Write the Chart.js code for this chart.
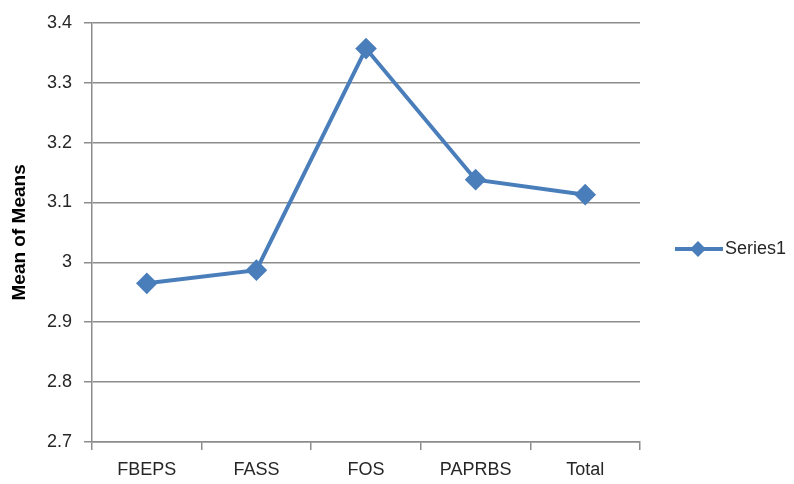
<!DOCTYPE html>
<html>
<head>
<meta charset="utf-8">
<script src="https://cdn.jsdelivr.net/npm/chart.js@4.4.1/dist/chart.umd.min.js"></script>
<style>
  html, body { margin: 0; padding: 0; background: #fff; }
  #wrap { width: 794px; height: 484px; }
</style>
</head>
<body>
<div id="wrap"><canvas id="myChart" width="794" height="484"></canvas></div>
<script>
const categories = ['FBEPS', 'FASS', 'FOS', 'PAPRBS', 'Total'];
const series1 = [2.965, 2.987, 3.357, 3.138, 3.113];
const seriesName = 'Series1';

const lineColor = '#4A7EBB';
const gridColor = '#8C8C8C';
const textColor = '#262626';
const fontFamily = "'Liberation Sans', Arial, sans-serif";

// legend drawn by hand so it sits where the original one does
const sideLegend = {
    id: 'sideLegend',
    afterDraw(chart) {
        const ctx = chart.ctx;
        const y = 249;
        ctx.save();
        ctx.strokeStyle = lineColor;
        ctx.lineWidth = 4;
        ctx.beginPath();
        ctx.moveTo(675, y);
        ctx.lineTo(723, y);
        ctx.stroke();
        ctx.fillStyle = lineColor;
        ctx.beginPath();
        ctx.moveTo(698, y - 8);
        ctx.lineTo(706, y);
        ctx.lineTo(698, y + 8);
        ctx.lineTo(690, y);
        ctx.closePath();
        ctx.fill();
        ctx.fillStyle = textColor;
        ctx.font = '18px ' + fontFamily;
        ctx.textBaseline = 'middle';
        ctx.fillText(seriesName, 725, y);
        ctx.restore();
    }
};

const ctx = document.getElementById('myChart').getContext('2d');
new Chart(ctx, {
    type: 'line',
    data: {
        labels: categories,
        datasets: [{
            label: seriesName,
            data: series1,
            borderColor: lineColor,
            backgroundColor: lineColor,
            borderWidth: 4,
            pointStyle: 'rectRot',
            pointRadius: 8,
            pointHoverRadius: 8,
            fill: false,
            tension: 0
        }]
    },
    options: {
        responsive: false,
        animation: false,
        layout: { padding: { left: 8, right: 154, top: 22, bottom: 0 } },
        plugins: {
            legend: { display: false },
            tooltip: { enabled: false }
        },
        scales: {
            x: {
                offset: true,
                afterFit: (scale) => { scale.height = 42; },
                grid: {
                    offset: true,
                    drawOnChartArea: false,
                    color: gridColor,
                    tickLength: 8,
                    lineWidth: 1.5
                },
                border: { color: gridColor, width: 1.5 },
                ticks: {
                    color: textColor,
                    font: { family: fontFamily, size: 18 },
                    padding: 9
                }
            },
            y: {
                min: 2.7,
                max: 3.4,
                afterFit: (scale) => { scale.width = 84; },
                grid: {
                    color: gridColor,
                    tickLength: 8,
                    lineWidth: 1.5
                },
                border: { color: gridColor, width: 1.5 },
                ticks: {
                    stepSize: 0.1,
                    color: textColor,
                    font: { family: fontFamily, size: 18 },
                    padding: 12,
                    callback: (v) => Number(v.toFixed(1)).toString()
                },
                title: {
                    display: true,
                    text: 'Mean of Means',
                    color: '#000',
                    font: { family: fontFamily, size: 19, weight: 'bold' },
                    padding: { top: 0, bottom: 0 }
                }
            }
        }
    },
    plugins: [sideLegend]
});
</script>
</body>
</html>
